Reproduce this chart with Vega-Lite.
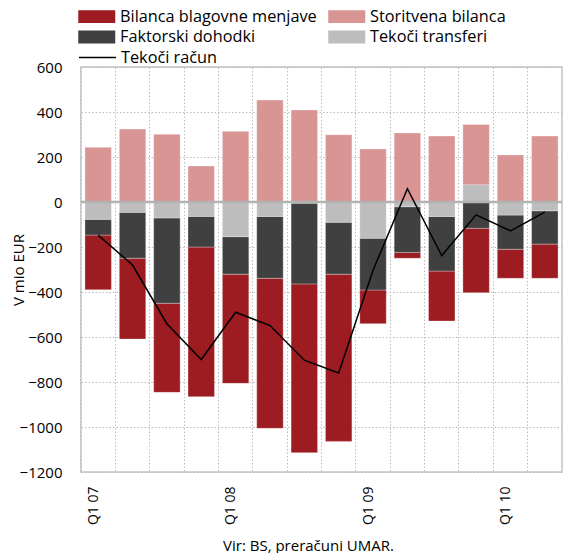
{
  "$schema": "https://vega.github.io/schema/vega-lite/v6.json",
  "width": 481,
  "height": 405,
  "autosize": {"type": "none"},
  "padding": {"left": 81, "top": 67, "right": 3, "bottom": 81},
  "config": {
    "font": "Open Sans",
    "view": {"stroke": "#c4c4c4", "strokeWidth": 1.5},
    "axis": {"labelColor": "#000000", "titleColor": "#000000", "labelFont": "Open Sans", "titleFont": "Open Sans"},
    "legend": {"labelColor": "#000000", "labelFont": "Open Sans"}
  },
  "datasets": {
    "bars": [
      {"q": "Q1 07", "s": "Bilanca blagovne menjave", "o": 2, "v": -243},
      {"q": "Q1 07", "s": "Storitvena bilanca", "o": 3, "v": 243},
      {"q": "Q1 07", "s": "Faktorski dohodki", "o": 1, "v": -70},
      {"q": "Q1 07", "s": "Tekoči transferi", "o": 0, "v": -77},
      {"q": "Q2 07", "s": "Bilanca blagovne menjave", "o": 2, "v": -359},
      {"q": "Q2 07", "s": "Storitvena bilanca", "o": 3, "v": 324},
      {"q": "Q2 07", "s": "Faktorski dohodki", "o": 1, "v": -204},
      {"q": "Q2 07", "s": "Tekoči transferi", "o": 0, "v": -46},
      {"q": "Q3 07", "s": "Bilanca blagovne menjave", "o": 2, "v": -396},
      {"q": "Q3 07", "s": "Storitvena bilanca", "o": 3, "v": 301},
      {"q": "Q3 07", "s": "Faktorski dohodki", "o": 1, "v": -379},
      {"q": "Q3 07", "s": "Tekoči transferi", "o": 0, "v": -71},
      {"q": "Q4 07", "s": "Bilanca blagovne menjave", "o": 2, "v": -665},
      {"q": "Q4 07", "s": "Storitvena bilanca", "o": 3, "v": 160},
      {"q": "Q4 07", "s": "Faktorski dohodki", "o": 1, "v": -136},
      {"q": "Q4 07", "s": "Tekoči transferi", "o": 0, "v": -64},
      {"q": "Q1 08", "s": "Bilanca blagovne menjave", "o": 2, "v": -485},
      {"q": "Q1 08", "s": "Storitvena bilanca", "o": 3, "v": 314},
      {"q": "Q1 08", "s": "Faktorski dohodki", "o": 1, "v": -167},
      {"q": "Q1 08", "s": "Tekoči transferi", "o": 0, "v": -154},
      {"q": "Q2 08", "s": "Bilanca blagovne menjave", "o": 2, "v": -667},
      {"q": "Q2 08", "s": "Storitvena bilanca", "o": 3, "v": 453},
      {"q": "Q2 08", "s": "Faktorski dohodki", "o": 1, "v": -275},
      {"q": "Q2 08", "s": "Tekoči transferi", "o": 0, "v": -64},
      {"q": "Q3 08", "s": "Bilanca blagovne menjave", "o": 2, "v": -750},
      {"q": "Q3 08", "s": "Storitvena bilanca", "o": 3, "v": 409},
      {"q": "Q3 08", "s": "Faktorski dohodki", "o": 1, "v": -359},
      {"q": "Q3 08", "s": "Tekoči transferi", "o": 0, "v": -5},
      {"q": "Q4 08", "s": "Bilanca blagovne menjave", "o": 2, "v": -743},
      {"q": "Q4 08", "s": "Storitvena bilanca", "o": 3, "v": 299},
      {"q": "Q4 08", "s": "Faktorski dohodki", "o": 1, "v": -231},
      {"q": "Q4 08", "s": "Tekoči transferi", "o": 0, "v": -90},
      {"q": "Q1 09", "s": "Bilanca blagovne menjave", "o": 2, "v": -150},
      {"q": "Q1 09", "s": "Storitvena bilanca", "o": 3, "v": 236},
      {"q": "Q1 09", "s": "Faktorski dohodki", "o": 1, "v": -230},
      {"q": "Q1 09", "s": "Tekoči transferi", "o": 0, "v": -161},
      {"q": "Q2 09", "s": "Bilanca blagovne menjave", "o": 2, "v": -26},
      {"q": "Q2 09", "s": "Storitvena bilanca", "o": 3, "v": 307},
      {"q": "Q2 09", "s": "Faktorski dohodki", "o": 1, "v": -203},
      {"q": "Q2 09", "s": "Tekoči transferi", "o": 0, "v": -21},
      {"q": "Q3 09", "s": "Bilanca blagovne menjave", "o": 2, "v": -222},
      {"q": "Q3 09", "s": "Storitvena bilanca", "o": 3, "v": 293},
      {"q": "Q3 09", "s": "Faktorski dohodki", "o": 1, "v": -243},
      {"q": "Q3 09", "s": "Tekoči transferi", "o": 0, "v": -64},
      {"q": "Q4 09", "s": "Bilanca blagovne menjave", "o": 2, "v": -286},
      {"q": "Q4 09", "s": "Storitvena bilanca", "o": 3, "v": 269},
      {"q": "Q4 09", "s": "Faktorski dohodki", "o": 1, "v": -117},
      {"q": "Q4 09", "s": "Tekoči transferi", "o": 0, "v": 76},
      {"q": "Q1 10", "s": "Bilanca blagovne menjave", "o": 2, "v": -129},
      {"q": "Q1 10", "s": "Storitvena bilanca", "o": 3, "v": 209},
      {"q": "Q1 10", "s": "Faktorski dohodki", "o": 1, "v": -152},
      {"q": "Q1 10", "s": "Tekoči transferi", "o": 0, "v": -58},
      {"q": "Q2 10", "s": "Bilanca blagovne menjave", "o": 2, "v": -152},
      {"q": "Q2 10", "s": "Storitvena bilanca", "o": 3, "v": 293},
      {"q": "Q2 10", "s": "Faktorski dohodki", "o": 1, "v": -148},
      {"q": "Q2 10", "s": "Tekoči transferi", "o": 0, "v": -39}
    ],
    "line": [
      {"q": "Q1 07", "ca": -147},
      {"q": "Q2 07", "ca": -280},
      {"q": "Q3 07", "ca": -541},
      {"q": "Q4 07", "ca": -700},
      {"q": "Q1 08", "ca": -490},
      {"q": "Q2 08", "ca": -549},
      {"q": "Q3 08", "ca": -703},
      {"q": "Q4 08", "ca": -760},
      {"q": "Q1 09", "ca": -303},
      {"q": "Q2 09", "ca": 59},
      {"q": "Q3 09", "ca": -238},
      {"q": "Q4 09", "ca": -57},
      {"q": "Q1 10", "ca": -128},
      {"q": "Q2 10", "ca": -45}
    ]
  },
  "layer": [
    {
      "data": {"name": "bars"},
      "mark": {"type": "bar", "stroke": "#ffffff", "strokeWidth": 0.6, "strokeOpacity": 0.5},
      "encoding": {
        "x": {
          "field": "q", "type": "nominal", "sort": null,
          "scale": {"paddingInner": 0.23, "paddingOuter": 0.115},
          "axis": {
            "grid": true, "gridDash": [1.5, 2], "gridColor": "#bdbdbd", "gridWidth": 1,
            "bandPosition": -0.15, "ticks": false, "domain": false,
            "labelAngle": 270, "labelAlign": "right", "labelBaseline": "middle",
            "labelFontSize": 14, "labelPadding": 14, "labelOffset": -4.5,
            "labelExpr": "indexof(datum.label, 'Q1') == 0 ? datum.label : ''",
            "title": "Vir: BS, preračuni UMAR.", "titleFontSize": 15, "titleFontWeight": "normal",
            "titleX": 227, "titleY": 78, "titleAlign": "center", "titleBaseline": "alphabetic"
          }
        },
        "y": {
          "field": "v", "type": "quantitative",
          "scale": {"domain": [-1200, 600], "nice": false},
          "axis": {
            "values": [-1200, -1000, -800, -600, -400, -200, 0, 200, 400, 600],
            "format": "d",
            "grid": true, "gridDash": [1.5, 2], "gridColor": "#bdbdbd", "gridWidth": 1,
            "ticks": false, "domain": false, "labelFontSize": 15, "labelPadding": 19,
            "title": "V mio EUR", "titleFontSize": 15, "titleFontWeight": "normal",
            "titleX": -62.5, "titleBaseline": "middle", "titleAngle": 270
          }
        },
        "color": {
          "field": "s", "type": "nominal",
          "scale": {
            "domain": ["Bilanca blagovne menjave", "Faktorski dohodki", "Storitvena bilanca", "Tekoči transferi"],
            "range": ["#9c1c21", "#404040", "#d99494", "#bdbdbd"]
          },
          "legend": {
            "orient": "none", "legendX": 6.25, "legendY": -60, "title": null, "columns": 2,
            "columnPadding": 11, "rowPadding": 2.5, "labelFontSize": 16.3, "labelOffset": 13.75, "labelLimit": 400,
            "symbolType": "M-2,-0.7H2V0.7H-2Z", "symbolSize": 342, "symbolStrokeWidth": 0, "symbolOpacity": 1
          }
        },
        "order": {"field": "o", "type": "quantitative"}
      }
    },
    {
      "data": {"values": [{}]},
      "mark": {"type": "rule", "color": "#b3b3b3", "strokeWidth": 2.5},
      "encoding": {"y": {"datum": 0}}
    },
    {
      "data": {"name": "line"},
      "mark": {"type": "line", "strokeWidth": 1.5},
      "encoding": {
        "x": {"field": "q", "type": "nominal", "sort": null},
        "y": {"field": "ca", "type": "quantitative"},
        "stroke": {
          "datum": "Tekoči račun",
          "scale": {"range": ["#000000"]},
          "legend": {
            "orient": "none", "legendX": -3, "legendY": -29, "title": null,
            "labelFontSize": 16.3, "labelOffset": 4, "labelLimit": 400,
            "symbolType": "stroke", "symbolSize": 1369, "symbolStrokeWidth": 1.5, "symbolStrokeColor": "#000000"
          }
        }
      }
    }
  ]
}
